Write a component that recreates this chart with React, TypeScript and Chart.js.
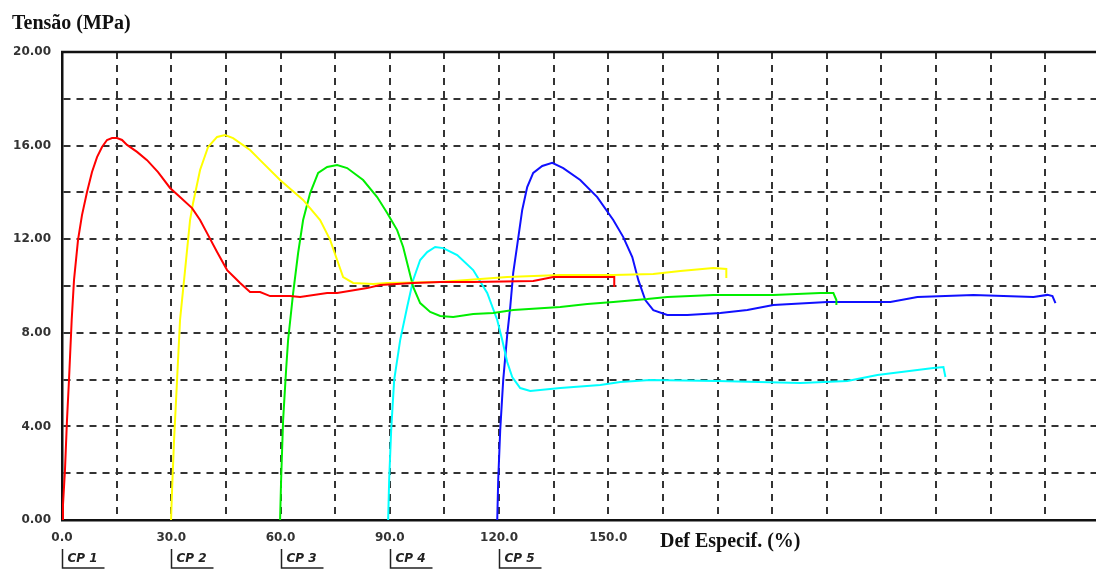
import React, { useEffect, useRef } from "react";
import { Chart, registerables } from "chart.js";

Chart.register(...registerables);

// ---- Data (Def. Especif. % , Tensão MPa) ----
const cp1Strain = [0, 0.27, 0.82, 1.37, 1.92, 2.66, 3.3, 4.4, 5.49, 6.87, 8.24, 9.62, 10.99, 12.36, 13.74, 15.11, 16.48, 17.86, 20.6, 23.35, 26.37, 29.67, 32.69, 35.71, 37.91, 39.83, 42.58, 45.33, 47.52, 48.9, 51.64, 54.39, 57.14, 62.63, 65.38, 72.8, 75.54, 83.78, 87.35, 96.42, 103.84, 112.9, 129.38, 134.88, 151.63, 151.63];
const cp1Stress = [0, 0.64, 2.14, 4.27, 5.98, 8.55, 10.26, 11.97, 13.03, 14.02, 14.87, 15.51, 15.94, 16.24, 16.32, 16.32, 16.24, 16.03, 15.73, 15.38, 14.87, 14.19, 13.76, 13.33, 12.82, 12.26, 11.45, 10.68, 10.34, 10.13, 9.74, 9.74, 9.57, 9.57, 9.53, 9.7, 9.7, 9.91, 10.04, 10.13, 10.17, 10.17, 10.21, 10.38, 10.38, 9.96];

const cp2Strain = [29.94, 30.22, 30.77, 31.59, 32.41, 33.79, 35.16, 35.99, 37.91, 40.11, 42.58, 44.78, 46.97, 51.64, 54.39, 59.88, 66.2, 70.87, 73.62, 75.54, 77.19, 79.94, 85.43, 89.28, 103.84, 122.24, 136.8, 151.36, 162.35, 169.76, 178.83, 182.4, 182.4];
const cp2Stress = [0, 1.28, 3.42, 5.98, 8.55, 10.68, 12.82, 13.55, 14.96, 15.94, 16.37, 16.45, 16.32, 15.81, 15.38, 14.53, 13.68, 12.82, 11.97, 11.11, 10.38, 10.13, 10.09, 10.13, 10.17, 10.38, 10.47, 10.47, 10.51, 10.64, 10.77, 10.73, 10.34];

const cp3Strain = [59.88, 60.16, 60.71, 61.53, 62.08, 63.46, 64.83, 66.2, 68.13, 70.33, 72.8, 75.54, 78.29, 82.68, 86.53, 89.28, 92.02, 93.67, 95.05, 96.42, 98.34, 101.09, 103.84, 107.41, 112.9, 118.4, 123.89, 136.8, 144.22, 151.36, 160.7, 166.19, 178.83, 195.31, 208.22, 211.79, 212.62, 212.62];
const cp3Stress = [0, 1.71, 4.27, 6.41, 7.69, 9.7, 11.41, 12.82, 13.97, 14.83, 15.09, 15.17, 15.04, 14.53, 13.8, 13.12, 12.39, 11.67, 10.81, 9.96, 9.27, 8.89, 8.72, 8.68, 8.8, 8.85, 8.97, 9.1, 9.23, 9.32, 9.44, 9.53, 9.62, 9.62, 9.7, 9.7, 9.4, 9.19];

const cp4Strain = [89.55, 89.83, 90.38, 91.2, 92.85, 94.77, 96.42, 98.34, 100.27, 102.46, 104.66, 108.51, 112.9, 116.75, 119.5, 120.87, 122.24, 123.62, 125.81, 128.56, 136.8, 147.79, 153.28, 161.52, 179.93, 202.73, 215.64, 223.88, 239.26, 242.01, 242.56];
const cp4Stress = [0, 1.71, 3.85, 5.98, 7.69, 9.1, 10.26, 11.11, 11.45, 11.67, 11.62, 11.32, 10.68, 9.7, 8.55, 7.69, 6.75, 6.11, 5.64, 5.51, 5.64, 5.77, 5.9, 5.98, 5.94, 5.85, 5.94, 6.2, 6.5, 6.54, 6.11];

const cp5Strain = [119.5, 119.77, 120.32, 121.14, 122.24, 123.07, 123.89, 124.99, 126.36, 127.73, 129.38, 131.86, 134.6, 137.62, 142.29, 146.96, 151.36, 154.11, 156.58, 158.23, 160.15, 162.35, 166.19, 171.69, 180.75, 188.17, 195.31, 210.15, 227.45, 234.87, 250.25, 266.73, 270.58, 271.95, 272.77];
const cp5Stress = [0, 1.71, 3.85, 5.98, 7.91, 9.1, 10.56, 11.75, 13.25, 14.23, 14.83, 15.13, 15.26, 15.04, 14.53, 13.8, 12.82, 12.09, 11.24, 10.26, 9.4, 8.97, 8.76, 8.76, 8.85, 8.97, 9.19, 9.32, 9.32, 9.53, 9.62, 9.53, 9.62, 9.57, 9.27];

const cpNames = ["CP 1", "CP 2", "CP 3", "CP 4", "CP 5"];
const cpStarts = [0, 30, 60, 90, 120];
const cpColors = ["#ff0000", "#ffff00", "#00ee00", "#00ffff", "#1010ff"];

const xTickValues = [0, 30, 60, 90, 120, 150];
const xTickLabels = ["0.0", "30.0", "60.0", "90.0", "120.0", "150.0"];
const yTickValues = [0, 4, 8, 12, 16, 20];
const yTickLabels = ["0.00", "4.00", "8.00", "12.00", "16.00", "20.00"];

const yTitle = "Tensão (MPa)";
const xTitle = "Def Especif. (%)";

const strains = [cp1Strain, cp2Strain, cp3Strain, cp4Strain, cp5Strain];
const stresses = [cp1Stress, cp2Stress, cp3Stress, cp4Stress, cp5Stress];

const decorPlugin = {
  id: "decor",
  afterDraw(chart: any) {
    const { ctx, chartArea } = chart;
    const xs = chart.scales.x;
    ctx.save();
    // solid top border
    ctx.strokeStyle = "#111";
    ctx.lineWidth = 2.5;
    ctx.setLineDash([]);
    ctx.beginPath();
    ctx.moveTo(chartArea.left - 1, chartArea.top);
    ctx.lineTo(chartArea.right, chartArea.top);
    ctx.stroke();

    // titles
    ctx.fillStyle = "#111";
    ctx.font = "bold 20px 'Liberation Serif'";
    ctx.textBaseline = "alphabetic";
    ctx.textAlign = "left";
    ctx.fillText(yTitle, 12, 29);
    ctx.fillText(xTitle, 660, 547);

    // CP markers
    ctx.font = "italic bold 12px 'DejaVu Sans'";
    ctx.textBaseline = "middle";
    for (let i = 0; i < cpNames.length; i++) {
      const px = Math.round(xs.getPixelForValue(cpStarts[i])) + 0.5;
      ctx.strokeStyle = "#222";
      ctx.lineWidth = 1.5;
      ctx.beginPath();
      ctx.moveTo(px, 549);
      ctx.lineTo(px, 568);
      ctx.lineTo(px + 42, 568);
      ctx.stroke();
      ctx.fillStyle = "#222";
      ctx.fillText(cpNames[i], px + 5, 559);
    }
    ctx.restore();
  },
};

const X_TICK_PAD = 11;

export default function App() {
  const ref = useRef<HTMLCanvasElement | null>(null);
  useEffect(() => {
    if (!ref.current) return;
    const datasets = strains.map((sx, i) => ({
      label: cpNames[i],
      data: sx.map((x, j) => ({ x, y: stresses[i][j] })),
      borderColor: cpColors[i],
      backgroundColor: cpColors[i],
      borderWidth: 2,
      pointRadius: 0,
      showLine: true,
      tension: 0,
      fill: false,
    }));
    const chart = new Chart(ref.current, {
      type: "scatter",
      data: { datasets },
      plugins: [decorPlugin],
      options: {
        animation: false,
        responsive: false,
        maintainAspectRatio: false,
        layout: { padding: { top: 52, left: 0, right: 0, bottom: 0 } },
        plugins: { legend: { display: false }, tooltip: { enabled: false }, title: { display: false } },
        scales: {
          x: {
            type: "linear",
            min: 0,
            max: 285,
            afterFit: (s: any) => {
              s.height = 50;
            },
            ticks: {
              stepSize: 15,
              autoSkip: false,
              maxRotation: 0,
              padding: X_TICK_PAD,
              color: "#333",
              font: { family: "'DejaVu Sans'", size: 12, weight: "bold" },
              callback: (v: any) => {
                const k = xTickValues.indexOf(Number(v));
                return k >= 0 ? xTickLabels[k] : "";
              },
            },
            grid: { color: "#333", lineWidth: 2, drawTicks: false },
            border: { display: true, color: "#111", width: 2.5, dash: [7, 6] },
          },
          y: {
            type: "linear",
            min: 0,
            max: 20,
            afterFit: (s: any) => {
              s.width = 62;
            },
            ticks: {
              stepSize: 2,
              autoSkip: false,
              padding: 11,
              color: "#333",
              font: { family: "'DejaVu Sans'", size: 12, weight: "bold" },
              callback: (v: any) => {
                const k = yTickValues.indexOf(Number(v));
                return k >= 0 ? yTickLabels[k] : "";
              },
            },
            grid: { color: "#333", lineWidth: 2, drawTicks: false },
            border: { display: true, color: "#111", width: 2.5, dash: [7, 6] },
          },
        },
      },
    } as any);
    return () => chart.destroy();
  }, []);
  const W = 1100 + X_TICK_PAD;
  return (
    <div style={{ position: "fixed", left: 0, top: 0, width: 1096, height: 570, overflow: "hidden", background: "#fff" }}>
      <canvas ref={ref} width={W} height={570} style={{ width: W, height: 570, display: "block" }} />
    </div>
  );
}
